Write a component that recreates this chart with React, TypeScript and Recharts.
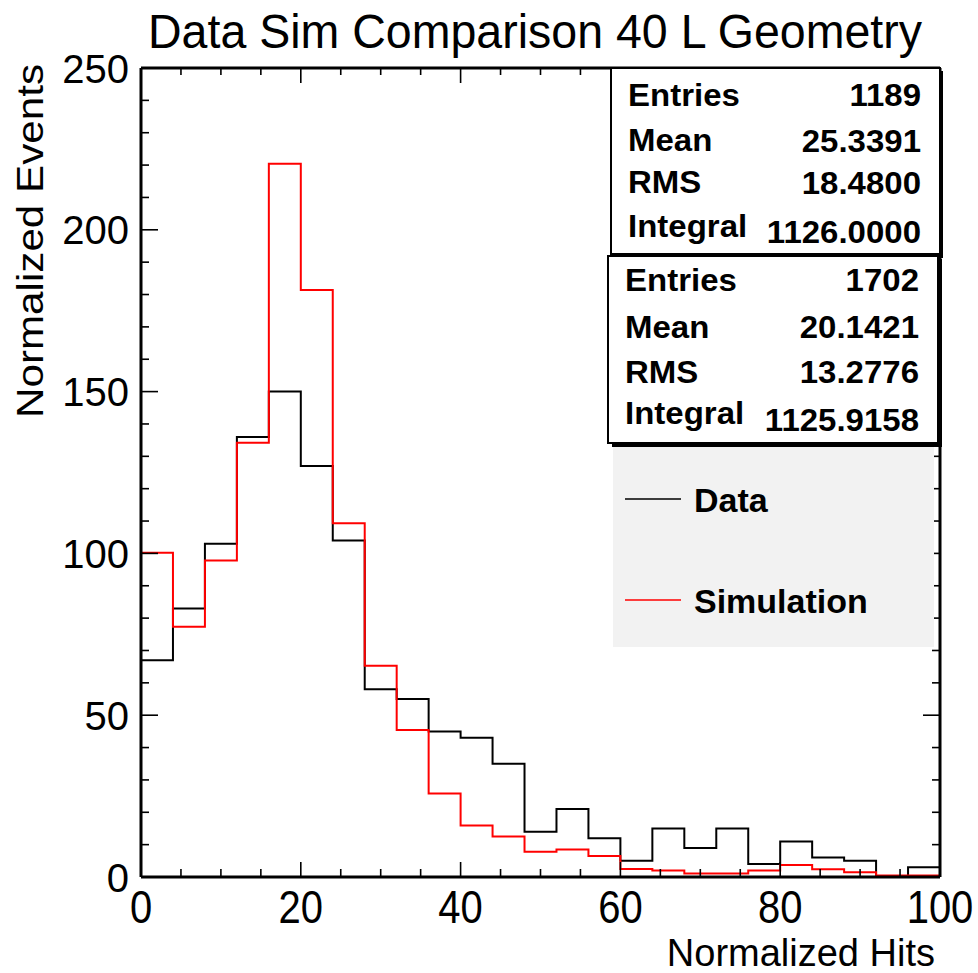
import React from 'react';
import { ComposedChart, Line, XAxis, YAxis, Legend } from 'recharts';

// ---- data ----
const binLow = [0, 4, 8, 12, 16, 20, 24, 28, 32, 36, 40, 44, 48, 52, 56, 60, 64, 68, 72, 76, 80, 84, 88, 92, 96];
const binWidth = 4;
const dataCounts = [67, 83, 103, 136, 150, 127, 104, 58, 55, 45, 43, 35, 14, 21, 12, 5, 15, 9, 15, 4, 11, 6, 5, 0, 3];
const simCounts = [100.2, 77.3, 97.8, 134.2, 220.4, 181.4, 109.3, 65.3, 45.4, 25.8, 15.9, 12.5, 7.8, 8.5, 6.5, 2.5, 2.0, 1.1, 1.1, 2.0, 3.7, 2.4, 1.5, 0.5, 0.5];

const xTicks = [0, 5, 10, 15, 20, 25, 30, 35, 40, 45, 50, 55, 60, 65, 70, 75, 80, 85, 90, 95, 100];
const yTicks = [0, 10, 20, 30, 40, 50, 60, 70, 80, 90, 100, 110, 120, 130, 140, 150, 160, 170, 180, 190, 200, 210, 220, 230, 240, 250];

const titleText = 'Data Sim Comparison 40 L Geometry';
const xTitle = 'Normalized Hits';
const yTitle = 'Normalized Events';

const statsData = [
  ['Entries', '1189'],
  ['Mean', '25.3391'],
  ['RMS', '18.4800'],
  ['Integral', '1126.0000'],
];
const statsSim = [
  ['Entries', '1702'],
  ['Mean', '20.1421'],
  ['RMS', '13.2776'],
  ['Integral', '1125.9158'],
];

// histogram rows for step lines
const rows: any[] = [{ x: binLow[0], data: 0, sim: 0 }];
binLow.forEach((b, i) => rows.push({ x: b, data: dataCounts[i], sim: simCounts[i] }));
const lastX = binLow[binLow.length - 1] + binWidth;
rows.push({ x: lastX, data: dataCounts[dataCounts.length - 1], sim: simCounts[simCounts.length - 1] });
rows.push({ x: lastX, data: 0, sim: 0 });

const FONT = '"Liberation Sans", Arial, Helvetica, sans-serif';

const XTickBottom = (props: any) => {
  const { x, y, payload } = props;
  const v = payload.value;
  const major = v % 20 === 0;
  return (
    <g>
      <line x1={x} y1={y} x2={x} y2={y - (major ? 15 : 8)} stroke="#000" strokeWidth={1.6} />
      {major && (
        <text transform={`translate(${x},${y + 46}) scale(1,1.15)`} textAnchor="middle" fontSize={40} fontFamily={FONT} fill="#000">
          {v}
        </text>
      )}
    </g>
  );
};

const XTickTop = (props: any) => {
  const { x, y, payload } = props;
  const major = payload.value % 20 === 0;
  return <line x1={x} y1={y} x2={x} y2={y + (major ? 15 : 7)} stroke="#000" strokeWidth={1.6} />;
};

const YTickLeft = (props: any) => {
  const { x, y, payload } = props;
  const v = payload.value;
  const major = v % 50 === 0;
  return (
    <g>
      <line x1={x} y1={y} x2={x + (major ? 17 : 8)} y2={y} stroke="#000" strokeWidth={1.6} />
      {major && (
        <text x={x - 12} y={y + 14.5} textAnchor="end" fontSize={40} fontFamily={FONT} fill="#000">
          {v}
        </text>
      )}
    </g>
  );
};

const YTickRight = (props: any) => {
  const { x, y, payload } = props;
  const major = payload.value % 50 === 0;
  return <line x1={x} y1={y} x2={x - (major ? 17 : 8)} y2={y} stroke="#000" strokeWidth={1.6} />;
};

const renderLegend = (props: any) => {
  const { payload } = props;
  return (
    <svg width={321} height={200} style={{ display: 'block' }}>
      <rect x={0} y={0} width={321} height={200} fill="#f2f2f2" />
      {(payload || []).map((entry: any, i: number) => {
        const cy = 52 + i * 101;
        return (
          <g key={entry.value}>
            <line x1={12} y1={cy} x2={68} y2={cy} stroke={entry.color} strokeWidth={1.5} />
            <text x={81} y={cy + 13} fontSize={34} fontWeight="bold" fontFamily={FONT} fill="#000">
              {entry.value}
            </text>
          </g>
        );
      })}
    </svg>
  );
};

const StatsBox = ({ x, y, w, h, rows: r, baselines, numBaselines }: any) => (
  <g>
    <rect x={x} y={y} width={w} height={h} fill="#fff" stroke="#000" strokeWidth={2} />
    {r.map((row: string[], i: number) => (
      <g key={row[0]}>
        <text transform={`translate(${x + 17},${baselines[i]}) scale(1,0.97)`} fontSize={33} fontWeight="bold" fontFamily={FONT} fill="#000">
          {row[0]}
        </text>
        <text transform={`translate(${x + w - 19},${numBaselines[i]}) scale(1,0.97)`} textAnchor="end" fontSize={33} fontWeight="bold" fontFamily={FONT} fill="#000">
          {row[1]}
        </text>
      </g>
    ))}
  </g>
);

export default function App() {
  return (
    <div style={{ position: 'absolute', left: 0, top: 0, width: 978, height: 973, background: '#fff' }}>
      <ComposedChart width={978} height={973} data={rows} margin={{ top: 66, right: 36, bottom: 94, left: 139 }}>
        <XAxis
          xAxisId="b"
          dataKey="x"
          type="number"
          domain={[0, 100]}
          ticks={xTicks}
          interval={0}
          height={2}
          tickSize={0}
          tickMargin={0}
          tickLine={false}
          tick={<XTickBottom />}
          axisLine={{ stroke: '#000', strokeWidth: 3 }}
          allowDataOverflow
        />
        <XAxis
          xAxisId="t"
          orientation="top"
          dataKey="x"
          type="number"
          domain={[0, 100]}
          ticks={xTicks}
          interval={0}
          height={2}
          tickSize={0}
          tickMargin={0}
          tickLine={false}
          tick={<XTickTop />}
          axisLine={{ stroke: '#000', strokeWidth: 3 }}
          allowDataOverflow
        />
        <YAxis
          yAxisId="l"
          type="number"
          domain={[0, 250]}
          ticks={yTicks}
          interval={0}
          width={2}
          tickSize={0}
          tickMargin={0}
          tickLine={false}
          tick={<YTickLeft />}
          axisLine={{ stroke: '#000', strokeWidth: 3 }}
          allowDataOverflow
        />
        <YAxis
          yAxisId="r"
          orientation="right"
          type="number"
          domain={[0, 250]}
          ticks={yTicks}
          interval={0}
          width={2}
          tickSize={0}
          tickMargin={0}
          tickLine={false}
          tick={<YTickRight />}
          axisLine={{ stroke: '#000', strokeWidth: 3 }}
          allowDataOverflow
        />
        <Line xAxisId="b" yAxisId="l" name="Data" dataKey="data" type="stepAfter" stroke="#000000" strokeWidth={2} dot={false} activeDot={false} isAnimationActive={false} />
        <Line xAxisId="b" yAxisId="l" name="Simulation" dataKey="sim" type="stepAfter" stroke="#ff0000" strokeWidth={2} dot={false} activeDot={false} isAnimationActive={false} />
        <Legend
          layout="horizontal"
          verticalAlign="middle"
          align="center"
          content={renderLegend}
          wrapperStyle={{ position: 'absolute', left: 613, top: 447, width: 321, height: 200, margin: 0, padding: 0 }}
        />
      </ComposedChart>
      <svg width={978} height={973} style={{ position: 'absolute', left: 0, top: 0, pointerEvents: 'none' }}>
        <text x={148} y={48} fontSize={49} fontFamily={FONT} fill="#000" textLength={774} lengthAdjust="spacingAndGlyphs">
          {titleText}
        </text>
        <text transform="translate(43,418) rotate(-90)" fontSize={36} fontFamily={FONT} fill="#000" textLength={354} lengthAdjust="spacingAndGlyphs">
          {yTitle}
        </text>
        <text x={935} y={966} textAnchor="end" fontSize={38} fontFamily={FONT} fill="#000">
          {xTitle}
        </text>
        {/* stats box 1 */}
        <rect x={940} y={71} width={3} height={187} fill="#000" />
        <StatsBox x={611} y={68} w={329} h={186} rows={statsData} baselines={[106, 151, 193, 237]} numBaselines={[106, 152, 194, 243]} />
        {/* stats box 2 */}
        <rect x={938} y={259} width={4} height={188} fill="#000" />
        <rect x={612} y={443} width={330} height={4} fill="#000" />
        <StatsBox x={608} y={256} w={330} h={187} rows={statsSim} baselines={[291, 338, 383, 424]} numBaselines={[291, 338, 383, 431]} />
      </svg>
    </div>
  );
}
